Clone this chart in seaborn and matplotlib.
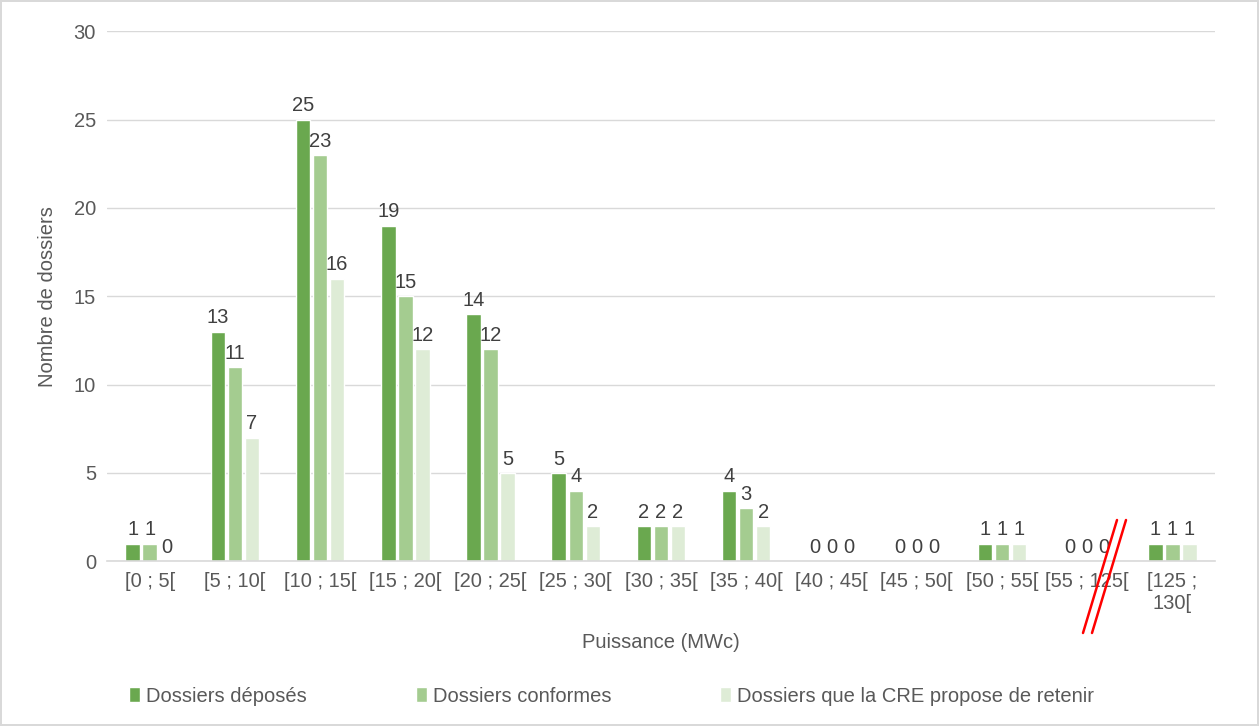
import pandas as pd
import seaborn as sns
import matplotlib.pyplot as plt
from matplotlib.lines import Line2D

categories = ["[0 ; 5[", "[5 ; 10[", "[10 ; 15[", "[15 ; 20[", "[20 ; 25[", "[25 ; 30[",
              "[30 ; 35[", "[35 ; 40[", "[40 ; 45[", "[45 ; 50[", "[50 ; 55[", "[55 ; 125[",
              "[125 ;\n130["]
deposes = [1, 13, 25, 19, 14, 5, 2, 4, 0, 0, 1, 0, 1]
conformes = [1, 11, 23, 15, 12, 4, 2, 3, 0, 0, 1, 0, 1]
retenus = [0, 7, 16, 12, 5, 2, 2, 2, 0, 0, 1, 0, 1]
series = ["Dossiers déposés", "Dossiers conformes", "Dossiers que la CRE propose de retenir"]
colors = ["#6aa84f", "#a4cc90", "#deecd6"]

df = pd.DataFrame({
    "Puissance": categories * 3,
    "Nombre": deposes + conformes + retenus,
    "Serie": [s for s in series for _ in categories],
})

sns.set_theme(style="white")
plt.rcParams["font.family"] = ["Liberation Sans", "DejaVu Sans"]
TXT = "#595959"
FS = 14.5

fig = plt.figure(figsize=(12.59, 7.26), dpi=100)
fig.patch.set_edgecolor("#d9d9d9")
fig.patch.set_linewidth(1.5)
ax = fig.add_axes([0.085, 0.227, 0.88, 0.73])

sns.barplot(data=df, x="Puissance", y="Nombre", hue="Serie", palette=colors,
            width=0.6, gap=0.15, legend=False, ax=ax, saturation=1)

for c in ax.containers:
    ax.bar_label(c, padding=3, fontsize=FS, color="#404040")

ax.set_ylim(0, 30)
ax.set_yticks(range(0, 31, 5))
ax.yaxis.grid(True, color="#d9d9d9", linewidth=1)
ax.set_axisbelow(True)
for s in ["left", "right", "top"]:
    ax.spines[s].set_visible(False)
ax.spines["bottom"].set_color("#d9d9d9")
ax.spines["bottom"].set_linewidth(1.2)
ax.tick_params(axis="both", length=0, labelsize=FS, labelcolor=TXT, pad=8)
ax.set_xlabel("Puissance (MWc)", fontsize=FS, color=TXT, labelpad=14)
ax.set_ylabel("Nombre de dossiers", fontsize=FS, color=TXT, labelpad=12)

# axis break marks
for dx in (0, 9):
    fig.add_artist(Line2D([(1083 + dx) / 1259, (1117 + dx) / 1259],
                          [1 - 633 / 726, 1 - 520 / 726],
                          transform=fig.transFigure, color="red", linewidth=1.8))

fig.legend(ax.containers, series, loc="lower left", bbox_to_anchor=(0.088, 0.003),
           ncol=3, frameon=False, fontsize=FS, labelcolor=TXT,
           handlelength=0.55, handleheight=0.75, handletextpad=0.3, columnspacing=5.4)

fig.savefig("out.png", dpi=100)
